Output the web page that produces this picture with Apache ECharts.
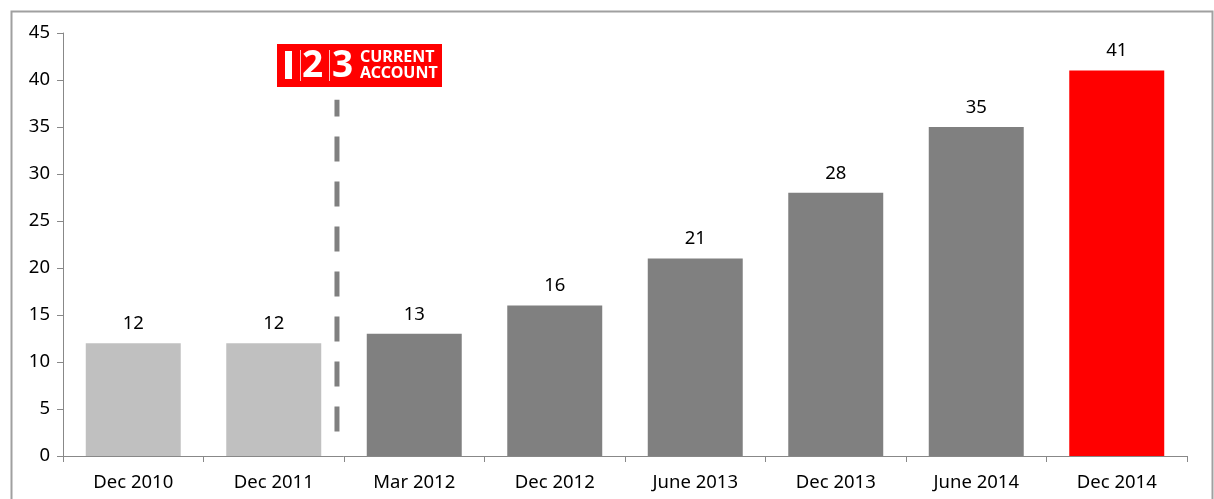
<!DOCTYPE html>
<html><head><meta charset="utf-8">
<script src="https://cdn.jsdelivr.net/npm/echarts@6/dist/echarts.min.js"></script>
<style>html,body{margin:0;padding:0;background:#fff}#c{width:1214px;height:499px}</style>
</head><body><div id="c"></div>
<script>
const categories = ['Dec 2010','Dec 2011','Mar 2012','Dec 2012','June 2013','Dec 2013','June 2014','Dec 2014'];
const values = [12, 12, 13, 16, 21, 28, 35, 41];
const barColors = ['#c0c0c0','#c0c0c0','#808080','#808080','#808080','#808080','#808080','#ff0000'];
const yTicks = [0,5,10,15,20,25,30,35,40,45];
const dividerX = [1.45, 1.45];
const dividerY = [2.6, 37.9];

const FONT = 'Noto Sans';
const chart = echarts.init(document.getElementById('c'));
chart.setOption({
  animation: false,
  textStyle: {fontFamily: FONT},
  grid: {left: 63, right: 27, top: 33, bottom: 43},
  xAxis: [{
    type: 'category', data: categories,
    axisLine: {onZero: false, lineStyle: {color: '#888', width: 1}},
    axisTick: {show: true, length: 6, lineStyle: {color: '#888'}},
    axisLabel: {color: '#000', fontSize: 18.5, margin: 17, fontFamily: FONT}
  }, {
    type: 'value', min: -0.5, max: 7.5, show: false
  }],
  yAxis: {
    type: 'value', min: 0, max: 45, interval: 5,
    axisLine: {show: true, onZero: false, lineStyle: {color: '#888'}},
    axisTick: {show: true, length: 6, lineStyle: {color: '#888'}},
    splitLine: {show: false},
    axisLabel: {color: '#000', fontSize: 18.5, margin: 13, fontFamily: FONT,
      formatter: v => yTicks.includes(v) ? String(v) : ''}
  },
  series: [{
    type: 'bar', xAxisIndex: 0,
    data: values.map((v, i) => ({value: v, itemStyle: {color: barColors[i]}})),
    barWidth: '67.6%',
    label: {show: true, position: 'top', distance: 10, color: '#000', fontSize: 18.5, fontFamily: FONT}
  }, {
    type: 'line', xAxisIndex: 1, symbol: 'none',
    data: dividerX.map((x, i) => [x, dividerY[i]]),
    lineStyle: {color: '#808080', width: 5, type: [25, 20]}
  }],
  graphic: [
    {type: 'rect', left: 9, top: 9, shape: {x: 0, y: 0, width: 1201, height: 500},
     style: {fill: 'none', stroke: '#a0a0a0', lineWidth: 2}, silent: true},
    {type: 'group', left: 277, top: 44, children: [
      {type: 'rect', shape: {x: 0, y: 0, width: 165, height: 43}, style: {fill: '#ff0000'}},
      {type: 'rect', shape: {x: 8, y: 7, width: 7, height: 28}, style: {fill: '#fff'}},
      {type: 'rect', shape: {x: 23, y: 6, width: 1, height: 31}, style: {fill: '#ffc0c0'}},
      {type: 'text', x: 25, y: 22, style: {text: '2', fill: '#fff', font: 'bold 37px "Noto Sans"', verticalAlign: 'middle'}},
      {type: 'rect', shape: {x: 52, y: 6, width: 1, height: 31}, style: {fill: '#ffc0c0'}},
      {type: 'text', x: 55, y: 22, style: {text: '3', fill: '#fff', font: 'bold 37px "Noto Sans"', verticalAlign: 'middle'}},
      {type: 'text', x: 83, y: 13, style: {text: 'CURRENT', fill: '#fff', font: 'bold 16px "Noto Sans"', verticalAlign: 'middle'}},
      {type: 'text', x: 83, y: 29, style: {text: 'ACCOUNT', fill: '#fff', font: 'bold 16px "Noto Sans"', verticalAlign: 'middle'}}
    ]}
  ]
});
</script></body></html>
